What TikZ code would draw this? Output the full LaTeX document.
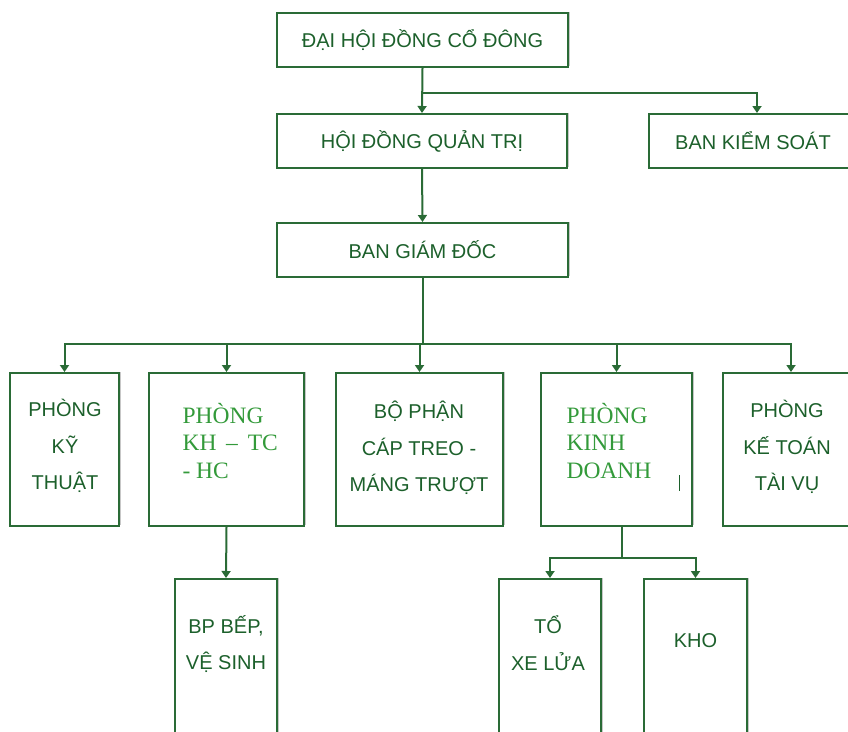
\documentclass[tikz,border=0pt]{standalone}
\usepackage{fontspec}
\setmainfont{Liberation Sans}
\newfontfamily\timesfont{Liberation Serif}
\usetikzlibrary{arrows.meta,shadows}
\definecolor{linegreen}{HTML}{2A6B36}
\definecolor{textgreen}{HTML}{1C602B}
\definecolor{lightgreen}{HTML}{339A3A}

\tikzset{
  unit/.style={draw=linegreen, line width=2pt, fill=white, inner sep=0pt,
    text=textgreen, font=\fontsize{20}{24}\selectfont,
    drop shadow={shadow xshift=1.5pt, shadow yshift=1.5pt, fill=black, opacity=.22}},
  lbl/.style={text=textgreen, font=\fontsize{20}{36.5}\selectfont, align=center},
  glbl/.style={text=lightgreen, font=\timesfont\fontsize{23.5}{27.5}\selectfont,
    align=left, anchor=west},
  link/.style={draw=linegreen, line width=2pt},
  arr/.style={link, -{Triangle[width=9pt,length=7pt]}},
}

\begin{document}
\begin{tikzpicture}[x=1pt,y=-1pt]
  \useasboundingbox (0,0) rectangle (848,731);
  \clip (0,0) rectangle (848,731);

  % upper levels
  \node[unit, minimum width=291pt, minimum height=54pt] (dhcd) at (422.5,40) {ĐẠI HỘI ĐỒNG CỔ ĐÔNG};
  \node[unit, minimum width=290pt, minimum height=54pt] (hdqt) at (422,141) {HỘI ĐỒNG QUẢN TRỊ};
  \node[unit, minimum width=216pt, minimum height=54pt] (bks) at (757,141) {\hspace*{-8pt}BAN KIỂM SOÁT};
  \node[unit, minimum width=291pt, minimum height=54pt] (bgd) at (422.5,250) {BAN GIÁM ĐỐC};

  % departments
  \begin{scope}[every node/.append style={minimum height=153pt}]
    \node[unit, minimum width=109pt] (kt) at (64.5,449.5) {};
    \node[unit, minimum width=155pt] (khtc) at (226.5,449.5) {};
    \node[unit, minimum width=167pt] (bpct) at (419.5,449.5) {};
    \node[unit, minimum width=151pt] (kd) at (616.5,449.5) {};
    \node[unit, minimum width=136pt] (kttv) at (791,449.5) {};
  \end{scope}
  \begin{scope}[every node/.append style={minimum height=192pt}]
    \node[unit, minimum width=102pt] (bep) at (226,675) {};
    \node[unit, minimum width=102pt] (xl) at (550,675) {};
    \node[unit, minimum width=103pt] (kho) at (695.5,675) {};
  \end{scope}

  \node[lbl] (ktt) at (65,446) {PHÒNG\\KỸ\\THUẬT};
  \node[glbl] (khtct) at (179,441) {PHÒNG\\KH \,–\, TC\\- HC};
  \node[lbl] (bpctt) at (419,448) {BỘ PHẬN\\CÁP TREO -\\MÁNG TRƯỢT};
  \node[glbl] (kdt) at (563,441) {PHÒNG\\KINH\\DOANH};
  \node[lbl] (kttvt) at (787,447) {PHÒNG\\KẾ TOÁN\\TÀI VỤ};
  \node[lbl] (bept) at (226,644) {BP BẾP,\\VỆ SINH};
  \node[lbl] (xlt) at (548,643) {TỔ\\XE LỬA};
  \node[lbl] (khot) at (695.5,641) {KHO};
  \draw[textgreen, line width=1pt] (679,475) -- (679,491);

  % connectors
  \path (dhcd.south) ++(0,25) coordinate (j1);
  \path (bgd.south) ++(0,66) coordinate (bus);
  \path (kd.south) ++(5,31) coordinate (kdj);
  \draw[arr] (dhcd.south) -- (hdqt.north);
  \draw[arr] (j1) -| (bks.north);
  \draw[arr] (hdqt.south) -- (bgd.north);
  \draw[link] (bgd.south) -- (bus);
  \foreach \n in {kt,khtc,bpct,kd,kttv}
    \draw[arr] (bus) -| (\n.north);
  \draw[arr] (khtc.south) -- (bep.north);
  \draw[link] (kdj |- kd.south) -- (kdj);
  \draw[arr] (kdj) -| (xl.north);
  \draw[arr] (kdj) -| (kho.north);
\end{tikzpicture}
\end{document}
